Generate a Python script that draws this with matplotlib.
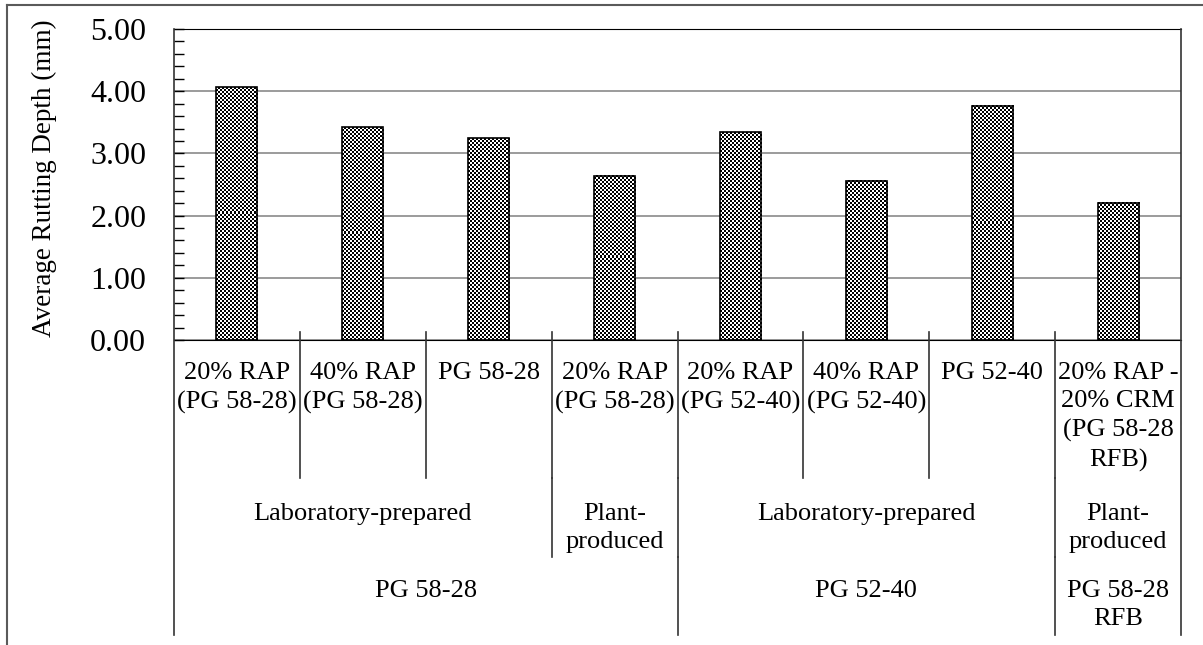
import matplotlib
matplotlib.use("Agg")
import matplotlib.pyplot as plt
import numpy as np
from matplotlib.transforms import blended_transform_factory
from matplotlib.lines import Line2D
from matplotlib.ticker import MultipleLocator, FormatStrFormatter

# ---------------- data ----------------
categories = ["20% RAP\n(PG 58-28)", "40% RAP\n(PG 58-28)", "PG 58-28",
              "20% RAP\n(PG 58-28)", "20% RAP\n(PG 52-40)", "40% RAP\n(PG 52-40)",
              "PG 52-40", "20% RAP -\n20% CRM\n(PG 58-28\nRFB)"]
rutting_mm = [4.06, 3.42, 3.24, 2.64, 3.34, 2.56, 3.77, 2.21]
production_labels = ["Laboratory-prepared", "Plant-\nproduced", "Laboratory-prepared", "Plant-\nproduced"]
production_first = [0, 3, 4, 7]
production_last = [2, 3, 6, 7]
binder_labels = ["PG 58-28", "PG 52-40", "PG 58-28\nRFB"]
binder_first = [0, 4, 7]
binder_last = [3, 6, 7]
ytick_values = [0, 1, 2, 3, 4, 5]
y_label = "Average Rutting Depth (mm)"

# ---------------- layout ----------------
W, H = 1203, 645
FONT = "Liberation Serif"
fig = plt.figure(figsize=(W / 100, H / 100), dpi=100)
ax = fig.add_axes([174 / W, 1 - 340 / H, 1007 / W, 311 / H])

def fy(py):
    return 1 - py / H

x = np.arange(len(categories))
bars = ax.bar(x, rutting_mm, width=0.326, facecolor="none", edgecolor="black",
              linewidth=1.2, zorder=3)
ax.set_xlim(-0.5, len(categories) - 0.5)
ax.set_ylim(0, 5)

# checkerboard fill for each bar
for b in bars:
    x0, y0 = b.get_x(), b.get_y()
    x1, y1 = x0 + b.get_width(), y0 + b.get_height()
    p0 = ax.transData.transform((x0, y0))
    p1 = ax.transData.transform((x1, y1))
    nx = max(1, int(round((p1[0] - p0[0]) / 2)))
    ny = max(1, int(round((p1[1] - p0[1]) / 2)))
    arr = np.indices((ny, nx)).sum(axis=0) % 2
    ax.imshow(arr, extent=(x0, x1, y0, y1), cmap="gray", interpolation="nearest",
              aspect="auto", origin="lower", zorder=2.5)
ax.set_xlim(-0.5, len(categories) - 0.5)
ax.set_ylim(0, 5)

# axes styling
ax.set_yticks(ytick_values)
ax.yaxis.set_major_formatter(FormatStrFormatter("%.2f"))
ax.yaxis.set_minor_locator(MultipleLocator(0.2))
ax.tick_params(axis="y", which="both", direction="in", length=7, width=1,
               color="black", pad=20, labelsize=23)
for lab in ax.get_yticklabels():
    lab.set_fontfamily(FONT)
ax.set_xticks([])
ax.set_axisbelow(True)
ax.yaxis.grid(True, which="major", color="#8a8a8a", linewidth=1.2)
ax.spines["top"].set_color("black")
ax.spines["bottom"].set_color("black")
ax.spines["left"].set_visible(False)
ax.spines["right"].set_visible(False)

# y label
fig.text(44 / W, fy(178), y_label, rotation=90, ha="center", va="center",
         fontsize=19.5, family=FONT)

# multi-level category axis
bt = blended_transform_factory(ax.transData, fig.transFigure)
line_kw = dict(color="#333333", linewidth=1.2)

# outer vertical lines
for xb in (-0.5, len(categories) - 0.5):
    fig.add_artist(Line2D([xb, xb], [fy(29), fy(635)], transform=bt, **line_kw))
# level 1 separators
for i in range(1, len(categories)):
    fig.add_artist(Line2D([i - 0.5, i - 0.5], [fy(332), fy(478)], transform=bt, **line_kw))
# level 2 separators
for f in production_first[1:]:
    fig.add_artist(Line2D([f - 0.5, f - 0.5], [fy(478), fy(557)], transform=bt, **line_kw))
# level 3 separators
for f in binder_first[1:]:
    fig.add_artist(Line2D([f - 0.5, f - 0.5], [fy(557), fy(635)], transform=bt, **line_kw))

txt_kw = dict(transform=bt, ha="center", va="top", fontsize=19, family=FONT,
              linespacing=1.37)
for i, lab in enumerate(categories):
    ax.text(i, fy(362), lab, **txt_kw)
for lab, a, b in zip(production_labels, production_first, production_last):
    ax.text((a + b) / 2, fy(503), lab, **txt_kw)
for lab, a, b in zip(binder_labels, binder_first, binder_last):
    ax.text((a + b) / 2, fy(580), lab, **txt_kw)

# outer frame (cropped)
frame_kw = dict(color="#5a5a5a", linewidth=1.5, transform=fig.transFigure)
fig.add_artist(Line2D([7 / W, 7 / W], [0, fy(5)], **frame_kw))
fig.add_artist(Line2D([7 / W, 1], [fy(5), fy(5)], **frame_kw))

fig.savefig("out.png", dpi=100, facecolor="white")
